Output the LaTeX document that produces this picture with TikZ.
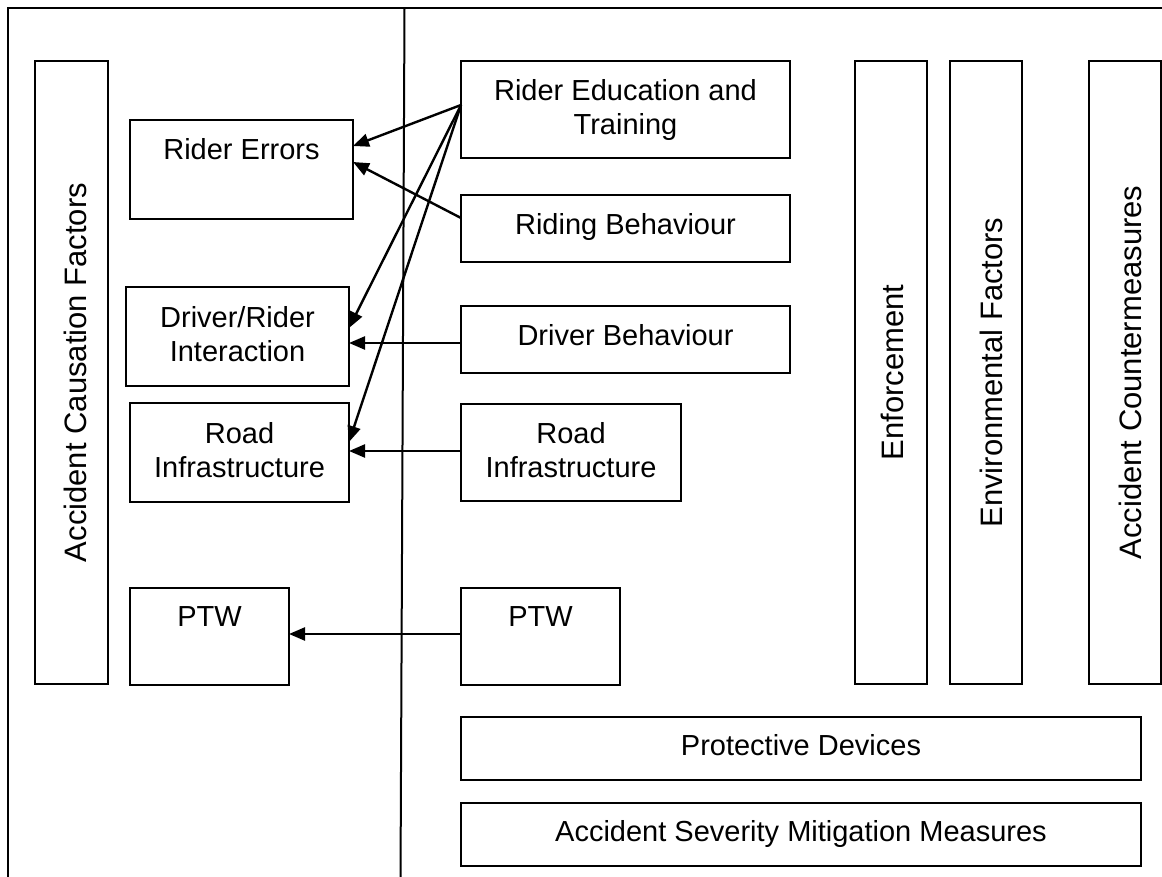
\documentclass[tikz,border=0pt]{standalone}
\usepackage{fontspec}
\setmainfont{Liberation Sans}
\usetikzlibrary{arrows.meta}
\begin{document}
\begin{tikzpicture}[x=1pt,y=-1pt,
  box/.style={draw, line width=2.4pt, inner sep=0pt, outer sep=0pt, anchor=north west},
  lbl/.style={inner sep=0pt, align=center, font=\fontsize{29}{34}\selectfont, anchor=north},
  vlbl/.style={inner sep=0pt, font=\fontsize{31}{36}\selectfont, rotate=90, anchor=base},
  arr/.style={line width=2.4pt, -{Triangle[length=16pt,width=13pt]}}]

\useasboundingbox (0,0) rectangle (1162,877);
\draw[line width=2.6pt] (8,880) -- (8,8) -- (1165,8);
\draw[line width=2pt] (404.5,8) -- (400.5,880);

% left column
\node[box, minimum width=73pt, minimum height=623pt] (acf) at (35,61) {};
\node[box, minimum width=223pt, minimum height=99pt] (rerr) at (130,120) {};
\node[box, minimum width=223pt, minimum height=99pt] (drint) at (126,287) {};
\node[box, minimum width=219pt, minimum height=99pt] (rinfl) at (130,403) {};
\node[box, minimum width=159pt, minimum height=97pt] (ptwl) at (130,588) {};

% right column
\node[box, minimum width=329pt, minimum height=97pt] (rede) at (461,61) {};
\node[box, minimum width=329pt, minimum height=67pt] (ridb) at (461,195) {};
\node[box, minimum width=329pt, minimum height=67pt] (drvb) at (461,306) {};
\node[box, minimum width=220pt, minimum height=97pt] (rinfr) at (461,404) {};
\node[box, minimum width=159pt, minimum height=97pt] (ptwr) at (461,588) {};

\node[box, minimum width=72pt, minimum height=623pt] (enf) at (855,61) {};
\node[box, minimum width=72pt, minimum height=623pt] (env) at (950,61) {};
\node[box, minimum width=72pt, minimum height=623pt] (acm) at (1089,61) {};

\node[box, minimum width=680pt, minimum height=63pt] (prot) at (461,717) {};
\node[box, minimum width=680pt, minimum height=63pt] (asmm) at (461,803) {};

% labels
\node[vlbl] at ([xshift=15pt]acf.center) {Accident Causation Factors};
\node[vlbl] at ([xshift=12pt]enf.center) {Enforcement};
\node[vlbl] at ([xshift=16pt]env.center) {Environmental Factors};
\node[vlbl] at ([xshift=16pt]acm.center) {Accident Countermeasures};

\node[lbl] at ([yshift=-18pt]rerr.north) {Rider Errors};
\node[lbl] at ([yshift=-19pt]drint.north) {Driver/Rider\\Interaction};
\node[lbl] at ([yshift=-19pt]rinfl.north) {Road\\Infrastructure};
\node[lbl] at ([yshift=-18pt]ptwl.north) {PTW};
\node[lbl] at ([yshift=-18pt]rede.north) {Rider Education and\\Training};
\node[lbl] at ([yshift=-18pt]ridb.north) {Riding Behaviour};
\node[lbl] at ([yshift=-18pt]drvb.north) {Driver Behaviour};
\node[lbl] at ([yshift=-18pt]rinfr.north) {Road\\Infrastructure};
\node[lbl] at ([yshift=-18pt]ptwr.north) {PTW};
\node[lbl] at ([yshift=-17pt]prot.north) {Protective Devices};
\node[lbl] at ([yshift=-17pt]asmm.north) {Accident Severity Mitigation Measures};

% connectors
\draw[arr] ([yshift=4.5pt]rede.west) -- ([yshift=23.5pt]rerr.east);
\draw[arr] ([yshift=10.5pt]ridb.west) -- ([yshift=7.5pt]rerr.east);
\draw[arr] ([yshift=4.5pt]rede.west) -- ([yshift=8.5pt]drint.east);
\draw[arr] ([yshift=4.5pt]rede.west) -- ([yshift=10.5pt]rinfl.east);
\draw[arr] ([yshift=-3.5pt]drvb.west) -- ([yshift=-6.5pt]drint.east);
\draw[arr] ([yshift=1.5pt]rinfr.west) -- ([yshift=1.5pt]rinfl.east);
\draw[arr] ([yshift=2.5pt]ptwr.west) -- ([yshift=2.5pt]ptwl.east);
\end{tikzpicture}
\end{document}
